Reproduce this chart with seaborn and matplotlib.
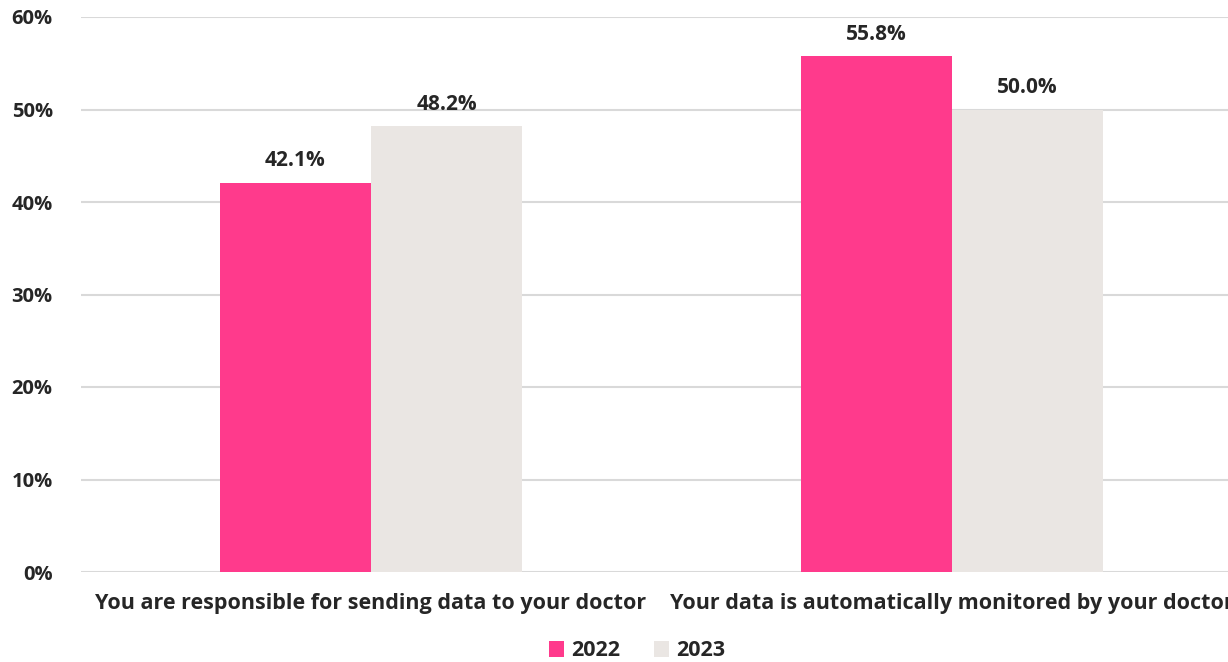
import matplotlib
matplotlib.use("Agg")
import matplotlib.pyplot as plt
import seaborn as sns
import pandas as pd
from matplotlib.patches import Patch

categories = ["You are responsible for sending data to your doctor",
              "Your data is automatically monitored by your doctor"]
years = ["2022", "2023"]
values_2022 = [42.1, 55.8]
values_2023 = [48.2, 50.0]
yticks = [0, 10, 20, 30, 40, 50, 60]

df = pd.DataFrame({
    "category": categories * 2,
    "year": [years[0]] * 2 + [years[1]] * 2,
    "value": values_2022 + values_2023,
})

sns.set_style("white")
plt.rcParams['font.family'] = ['Open Sans', 'DejaVu Sans']
text_color = "#262626"
palette = {"2022": "#FF3A8C", "2023": "#EAE6E3"}

fig = plt.figure(figsize=(12.28, 6.62), dpi=100)
ax = fig.add_axes([80.5 / 1228, 90 / 662, 1162 / 1228, 555 / 662])

sns.barplot(data=df, x="category", y="value", hue="year", order=categories,
            hue_order=years, palette=palette, width=0.52, saturation=1,
            legend=False, ax=ax, linewidth=0)

ax.set_xlim(-0.5, 1.5)
ax.set_ylim(0, 60)
ax.set_yticks(yticks)
ax.set_yticklabels([f"{t}%" for t in yticks], fontsize=14.5, fontweight="bold", color=text_color)
ax.tick_params(axis="y", length=0, pad=20)
ax.tick_params(axis="x", length=0, pad=15)
for lbl in ax.get_xticklabels():
    lbl.set_fontsize(15.5)
    lbl.set_fontweight("bold")
    lbl.set_color(text_color)
ax.set_xlabel("")
ax.set_ylabel("")
ax.grid(axis="y", color="#D9D9D9", linewidth=1.5)
ax.set_axisbelow(True)
for s in ax.spines.values():
    s.set_visible(False)

for cont in ax.containers:
    ax.bar_label(cont, labels=[f"{v:.1f}%" for v in cont.datavalues], padding=8,
                 fontsize=15, fontweight="bold", color=text_color)

handles = [Patch(facecolor=palette[y], edgecolor="none", label=y) for y in years]
fig.legend(handles=handles, loc="center", bbox_to_anchor=(637 / 1228, 1 - 651 / 662),
           ncol=2, frameon=False, handlelength=0.7, handleheight=0.7,
           handletextpad=0.3, columnspacing=1.6,
           prop={"size": 15.5, "weight": "bold"}, labelcolor=text_color)

fig.savefig("out.png", dpi=100)
